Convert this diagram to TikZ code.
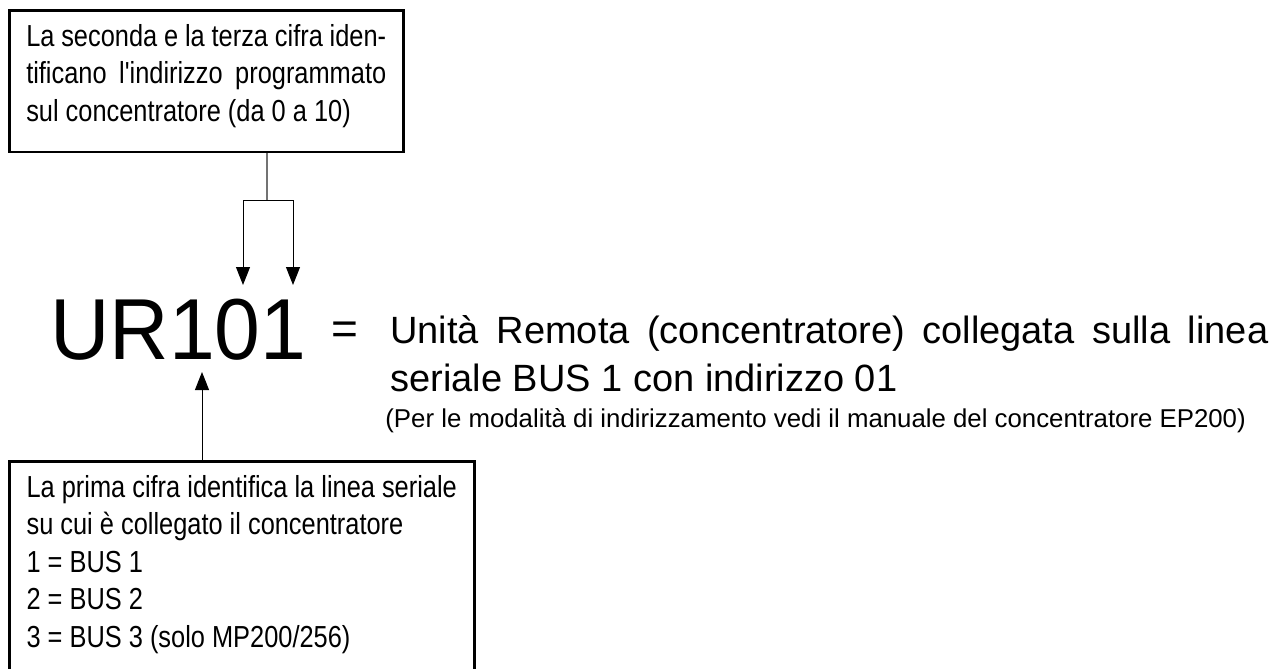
\documentclass[tikz,border=0pt]{standalone}
\usepackage{fontspec}
\setmainfont{Liberation Sans}[Ligatures=TeXOff]
\newfontfamily\narrowfont{Liberation Sans}[FakeStretch=0.835,Ligatures=TeXOff]
\newfontfamily\codefont{Liberation Sans}[FakeStretch=0.95]
\usetikzlibrary{arrows.meta}

\begin{document}
\begin{tikzpicture}[
  x=0.5pt,y=-0.5pt,
  info_box/.style={rectangle,draw=black,line width=1.25pt,inner xsep=8.5pt,inner ysep=7pt,anchor=north west,font=\narrowfont\fontsize{15.2pt}{18.75pt}\selectfont},
  code_text/.style={inner sep=0pt,anchor=base west,font=\codefont\fontsize{43.3pt}{48pt}\selectfont},
  desc_text/.style={inner sep=0pt,anchor=base west},
  stem_line/.style={draw=black!55,line width=0.6pt},
  pointer/.style={draw=black,line width=0.5pt,-{Triangle[length=9pt,width=7pt]}}
  ]
  \useasboundingbox (0,0) rectangle (1275,669);

%address box
  \node (box_addr) [info_box,text width=180pt,align=justify] at(8,9) {La seconda e la terza cifra iden-\linebreak tificano l'indirizzo programmato\linebreak sul concentratore (da 0 a 10)\\[-10.5pt]\mbox{}};

%bus box
  \node (box_bus) [info_box,align=left,minimum width=232.5pt] at(8,460) {La prima cifra identifica la linea seriale\\su cui è collegato il concentratore\\1 = BUS 1\\2 = BUS 2\\3 = BUS 3 (solo MP200/256)\\\mbox{}};

%code
  \node (code_UR) [code_text] at(50,359) {UR101};
  \node (eq_sign) [code_text,font=\fontsize{23pt}{24pt}\selectfont] at(331,344) {=};

%description
  \node (desc_main) [desc_text,text width=439pt,align=justify,font=\fontsize{19pt}{24pt}\selectfont] at(390,343) {Unità Remota (concentratore) collegata sulla linea\linebreak seriale BUS 1 con indirizzo 01};
  \node (desc_note) [desc_text,font=\fontsize{12.9pt}{15pt}\selectfont] at(385,427) {(Per le modalità di indirizzamento vedi il manuale del concentratore EP200)};

%connectors
  \coordinate (split_addr) at(267,200);
  \coordinate (tip_0) at(243,285);
  \coordinate (tip_1) at(293,285);
  \coordinate (tip_bus) at(202,372);
  \draw[stem_line] (box_addr.south -| split_addr) -- (split_addr);
  \draw[pointer] (split_addr) -| (tip_0);
  \draw[pointer] (split_addr) -| (tip_1);
  \draw[pointer] (box_bus.north -| tip_bus) -- (tip_bus);

\end{tikzpicture}
\end{document}
